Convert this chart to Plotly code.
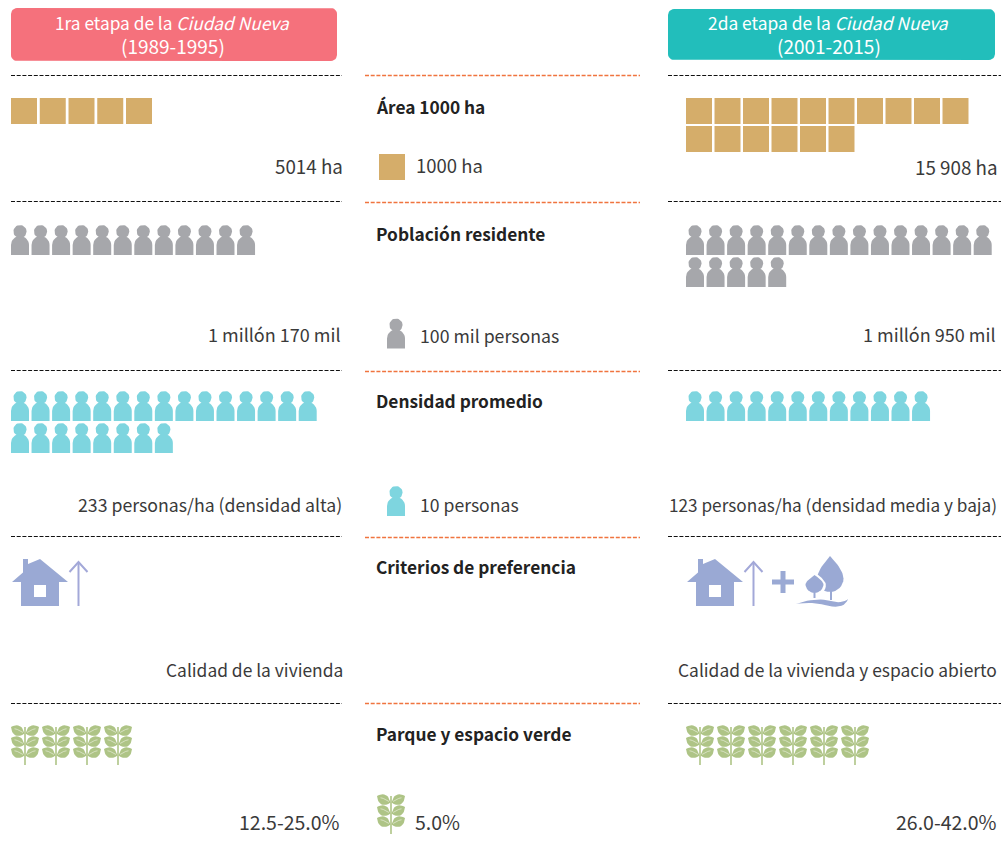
import plotly.graph_objects as go

# ---------- data ----------
HEADER_1 = ["1ra etapa de la <i>Ciudad Nueva</i>", "(1989-1995)"]
HEADER_2 = ["2da etapa de la <i>Ciudad Nueva</i>", "(2001-2015)"]
CENTER_LABELS = ["Área 1000 ha", "Población residente", "Densidad promedio",
                 "Criterios de preferencia", "Parque y espacio verde"]
STAGE1_VALUES = ["5014 ha", "1 millón 170 mil", "233 personas/ha (densidad alta)",
                 "Calidad de la vivienda", "12.5-25.0%"]
STAGE2_VALUES = ["15 908 ha", "1 millón 950 mil", "123 personas/ha (densidad media y baja)",
                 "Calidad de la vivienda y espacio abierto", "26.0-42.0%"]
LEGEND_LABELS = ["1000 ha", "100 mil personas", "10 personas", "5.0%"]
AREA_ROWS_1 = [5]
AREA_ROWS_2 = [10, 6]
POP_ROWS_1 = [12]
POP_ROWS_2 = [15, 5]
DENS_ROWS_1 = [15, 8]
DENS_ROWS_2 = [12]
LEAF_ROWS_1 = [4]
LEAF_ROWS_2 = [6]

# ---------- style ----------
FONT = "Noto Sans CJK KR"
TXT = "#3a3a3a"
GOLD, GRAY, CYAN = "#d5ad6a", "#a6a7ab", "#7ed5df"
BLUE, ARROW, GREEN = "#9aa9d4", "#a3a8d8", "#aec486"
RED, TEAL = "#f5717c", "#22bebb"
ORANGE = "#f0743f"

fig = go.Figure()


def bez(p0, c, p1, n=14):
    out = []
    for i in range(n + 1):
        t = i / n
        out.append(((1-t)**2*p0[0] + 2*t*(1-t)*c[0] + t*t*p1[0],
                    (1-t)**2*p0[1] + 2*t*(1-t)*c[1] + t*t*p1[1]))
    return out


def arc(cx, cy, r, a0=0, a1=360, n=32, ry=None):
    import math
    ry = r if ry is None else ry
    return [(cx + r*math.cos(math.radians(a0 + (a1-a0)*i/n)),
             cy + ry*math.sin(math.radians(a0 + (a1-a0)*i/n))) for i in range(n + 1)]


def add_fill(polys, color):
    xs, ys = [], []
    for p in polys:
        xs += [q[0] for q in p] + [p[0][0], None]
        ys += [q[1] for q in p] + [p[0][1], None]
    fig.add_trace(go.Scatter(x=xs, y=ys, mode="lines", fill="toself", fillcolor=color,
                             line=dict(width=0, color=color), hoverinfo="skip"))


def add_line(segs, color, width, dash=None):
    xs, ys = [], []
    for s in segs:
        xs += [q[0] for q in s] + [None]
        ys += [q[1] for q in s] + [None]
    fig.add_trace(go.Scatter(x=xs, y=ys, mode="lines", hoverinfo="skip",
                             line=dict(width=width, color=color, dash=dash)))


def slots(rows, x0, dx, y0, dy):
    out = []
    for r, n in enumerate(rows):
        for i in range(n):
            out.append((x0 + i*dx, y0 + r*dy))
    return out


def squares(pos):
    fig.add_trace(go.Scatter(x=[p[0] for p in pos], y=[p[1] for p in pos], mode="markers",
                             hoverinfo="skip",
                             marker=dict(symbol="square", size=26, color=GOLD, line=dict(width=0))))


def person_polys(x, y):
    # x = left edge, y = top edge; icon 18 x 30
    body = arc(x+9, y+20, 9, 180, 360, 16, ry=9) + [(x+18, y+30), (x, y+30)]
    return [arc(x+9, y+6.6, 6.6), body]


def people(pos, color):
    polys = []
    for x, y in pos:
        polys += person_polys(x, y)
    add_fill(polys, color)


def leaves(pos):
    polys, stems, veins = [], [], []
    for x, y in pos:  # x = stem, y = top
        stems.append([(x, y+3), (x, y+41)])
        for k in range(3):
            yy = y + 6 + k*11
            for s in (-1, 1):
                polys.append(bez((x+s*0.5, yy+3.5), (x+s*3.5, yy-8.5), (x+s*14, yy-3), 10)
                             + bez((x+s*14, yy-3), (x+s*12.5, yy+10), (x+s*0.5, yy+4), 10))
                veins.append(bez((x+s*2, yy+2.5), (x+s*6, yy-0.5), (x+s*10.5, yy-1.2), 6))
    add_fill(polys, GREEN)
    add_line(veins, "#e6edd8", 0.7)
    add_line(stems, GREEN, 1.6)


def house(ox):
    y = 559
    hull = [(ox+23, y), (ox+28, y), (ox+28, y+5), (ox+40, y), (ox+68, y+23), (ox+59, y+23),
            (ox+59, y+47), (ox+21, y+47), (ox+21, y+23), (ox+12, y+23), (ox+23, y+13.5)]
    add_fill([hull], BLUE)
    add_fill([[(ox+34, y+26), (ox+46, y+26), (ox+46, y+38), (ox+34, y+38)]], "white")
    add_line([[(ox+78.5, y+3), (ox+78.5, y+47)],
              [(ox+69.5, y+13), (ox+78.5, y+3), (ox+87.5, y+13)]], ARROW, 2)


def drop(cx, top, hw, bottom, lean=0):
    mid = bottom - hw
    left = bez((cx, top), (cx-hw*0.9, mid-(mid-top)*0.4), (cx-hw, mid), 12)
    right = bez((cx+hw, mid), (cx+hw*0.9+lean, mid-(mid-top)*0.4), (cx, top), 12)
    return left + arc(cx, mid, hw, 180, 0, 16) + right


# ---------- header buttons ----------
def rounded(x0, x1, y0, y1, r):
    return (arc(x0+r, y0+r, r, 180, 270, 6) + arc(x1-r, y0+r, r, 270, 360, 6)
            + arc(x1-r, y1-r, r, 0, 90, 6) + arc(x0+r, y1-r, r, 90, 180, 6))


add_fill([rounded(11, 337, 8, 61, 6)], RED)
add_fill([rounded(668, 995, 9, 60, 6)], TEAL)

# ---------- separators ----------
SEP_Y_L = [75.5, 201.5, 370.5, 536.5, 703.5]
SEP_Y_C = [75.5, 202.5, 371.5, 537.5, 703.5]
add_line([[(11, v), (342, v)] for v in SEP_Y_L], "#111111", 1, "4px,1.7px")
add_line([[(668, v), (1001, v)] for v in SEP_Y_L], "#111111", 1, "4px,1.7px")
add_line([[(365, v), (640, v)] for v in SEP_Y_C], ORANGE, 1.3, "4px,1.7px")

# ---------- icons ----------
squares(slots(AREA_ROWS_1, 24, 28.75, 111, 28))
squares(slots(AREA_ROWS_2, 699, 28.5, 111, 28))
squares([(392, 167)])

people(slots(POP_ROWS_1, 11, 20.55, 225, 32), GRAY)
people(slots(POP_ROWS_2, 686, 20.55, 225, 32), GRAY)
people([(387, 318.5)], GRAY)
people(slots(DENS_ROWS_1, 11, 20.55, 391, 32), CYAN)
people(slots(DENS_ROWS_2, 686, 20.55, 391, 32), CYAN)
people([(387, 486)], CYAN)

house(0)
house(675)
add_fill([[(772, 579.5), (780.5, 579.5), (780.5, 571), (785.5, 571), (785.5, 579.5), (794, 579.5),
           (794, 584.5), (785.5, 584.5), (785.5, 593), (780.5, 593), (780.5, 584.5), (772, 584.5)]], BLUE)

# trees + wave
add_fill([drop(830, 556, 13.5, 592, 1)], BLUE)
add_fill([drop(814.5, 572, 11.5, 596)], "white")
add_fill([drop(814.5, 575, 9, 593)], BLUE)
add_line([[(831, 588), (831, 600)], [(814.5, 590), (814.5, 598)]], BLUE, 2)
add_fill([bez((796, 604), (815, 597), (830, 601), 10) + bez((830, 601), (842, 604), (848, 599), 8)
          + bez((848, 599), (845, 609), (828, 606), 8) + bez((828, 606), (812, 601), (796, 604), 10)], BLUE)

leaves(slots(LEAF_ROWS_1, 25, 31, 724, 0))
leaves(slots(LEAF_ROWS_2, 700, 31, 724, 0))
leaves([(391, 793)])


# ---------- text ----------
def text(x, y, s, anchor="left", color=TXT, size=17.4, bold=False):
    fig.add_annotation(x=x, y=y, text=f"<b>{s}</b>" if bold else s, showarrow=False,
                       xanchor=anchor, yanchor="middle", align="center", borderpad=0, borderwidth=0,
                       font=dict(family=FONT, size=size, color=color))


text(172.5, 22, HEADER_1[0], "center", "white", 17.3)
text(172.5, 45, HEADER_1[1], "center", "white", 19)
text(828.5, 22, HEADER_2[0], "center", "white", 17.4)
text(828.5, 45, HEADER_2[1], "center", "white", 19)
S1_SIZE = [18.8, 18, 17.7, 17.4, 19.5]
S2_SIZE = [18.8, 18, 17.2, 17.4, 19.5]
for s, x, y, z in zip(STAGE1_VALUES, [343, 341, 342, 343, 340], [165, 334, 504, 669, 821], S1_SIZE):
    text(x, y, s, "right", size=z)
for s, x, y, z in zip(STAGE2_VALUES, [998, 996, 997, 997, 997], [166, 334, 504, 669, 821], S2_SIZE):
    text(x, y, s, "right", size=z)
for s, y in zip(CENTER_LABELS, [106.5, 233.5, 400.5, 566.5, 733.5]):
    text(376, y, s, bold=True, color="#222222", size=17.3)
for s, x, y, z in zip(LEGEND_LABELS, [416, 420, 420, 415], [165, 335, 504, 821], [18.5, 17.7, 17.6, 19.5]):
    text(x, y, s, size=z)

fig.update_layout(width=1003, height=851, margin=dict(l=0, r=0, t=0, b=0), showlegend=False,
                  plot_bgcolor="white", paper_bgcolor="white", hovermode=False,
                  xaxis=dict(range=[0, 1003], visible=False, fixedrange=True),
                  yaxis=dict(range=[851, 0], visible=False, fixedrange=True))
fig.write_html("out.html", config=dict(displayModeBar=False),
               post_script="document.body.style.margin='0';document.body.style.overflow='hidden';")
